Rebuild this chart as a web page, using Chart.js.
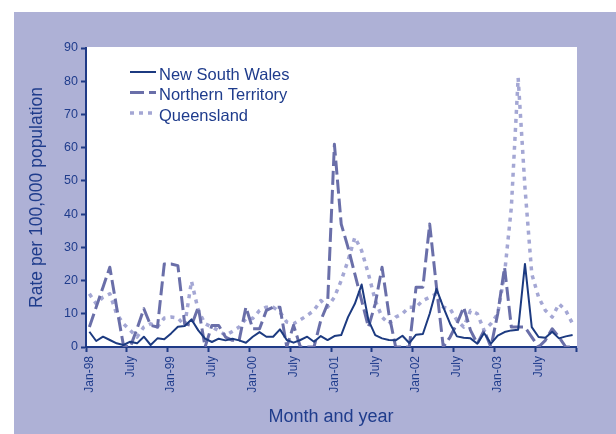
<!DOCTYPE html>
<html>
<head>
<meta charset="utf-8">
<script src="https://cdn.jsdelivr.net/npm/chart.js@4.4.1/dist/chart.umd.min.js"></script>
<style>
    html, body { margin: 0; padding: 0; background: #ffffff; }
    canvas { display: block; }
</style>
</head>
<body>
<canvas id="chart" width="616" height="434"></canvas>
<script>
// monthly categories, Jan-98 .. Dec-03
const years = ['98', '99', '00', '01', '02', '03'];
const month_names = ['Jan', 'Feb', 'Mar', 'Apr', 'May', 'Jun', 'Jul', 'Aug', 'Sep', 'Oct', 'Nov', 'Dec'];
const months = [];
years.forEach(y => month_names.forEach(m => months.push(m + '-' + y)));

// labels shown every 6 months
const tick_labels = ['Jan-98', 'July', 'Jan-99', 'July', 'Jan-00', 'July', 'Jan-01', 'July', 'Jan-02', 'July', 'Jan-03', 'July', ''];

const nsw = [
    4.6, 1.8, 3.1, 2.1, 1.1, 0.6, 1.6, 1.1, 3.1, 0.6, 2.6, 2.3,
    4.1, 6.1, 6.3, 8.3, 5.0, 2.5, 1.5, 2.5, 2.0, 2.5, 2.0, 1.3,
    3.1, 4.5, 3.1, 3.1, 5.3, 2.1, 1.3, 2.1, 3.1, 1.6, 3.3, 2.1,
    3.3, 3.6, 9.0, 13.0, 18.8, 8.1, 3.6, 2.6, 2.1, 2.0, 3.4, 1.2,
    3.7, 3.9, 10.0, 17.5, 12.0, 7.0, 3.2, 2.8, 2.6, 1.0, 4.2, 1.0,
    3.4, 4.5, 5.0, 5.2, 25.0, 6.0, 3.0, 2.8, 4.6, 2.6, 3.2, 3.6,
];
const nt = [
    6, 12, 18, 24, 12, 0.5, 0, 5.5, 11.5, 6.5, 6, 25,
    25, 24.5, 7, 6.5, 12, 0, 6.5, 6.5, 3, 2, 2, 12,
    5.5, 5.5, 11, 12, 12, 0, 6.5, 0, 0, 0, 8, 13,
    61, 37, 30, 22, 14, 6, 13, 24, 10, 0, 0, 0,
    18, 18, 37, 18, 0, 3, 7, 12, 5, 1, 5, 0,
    10, 24, 6, 6, 6, 3, 0, 2, 5.5, 3, 0, 0,
];
const qld = [
    16, 13, 15, 16, 10, 7, 5, 3, 6, 7, 6, 8.7,
    9, 8.7, 6.5, 19.8, 11, 7, 6, 5, 3.5, 4.7, 6, 8.5,
    8.6, 11, 12, 12, 10.5, 7.5, 7, 8.2, 9.5, 11, 14, 12,
    15, 20, 26, 33, 29, 22, 14, 9, 7, 9, 10, 12,
    12, 14, 15, 16, 12, 11.5, 8, 6, 11, 10, 5, 7,
    10, 22, 42, 81, 48, 22, 15, 11, 9, 13, 11, 7,
];

const text_color = '#1f3c8c';
const axis_color = '#1f3a86';
const font_family = '"Liberation Sans", Arial, sans-serif';

// each month sits in the middle of its slot on the axis
const to_points = values => values.map((y, i) => ({ x: i + 0.5, y }));

const panel_bg = {
    id: 'panel_bg',
    beforeDraw(chart) {
        const { ctx, chartArea: a } = chart;
        ctx.save();
        ctx.fillStyle = '#ffffff';
        ctx.fillRect(0, 0, chart.width, chart.height);
        ctx.fillStyle = '#aeb1d6';
        ctx.fillRect(14, 12, chart.width - 14, chart.height - 12);
        ctx.fillStyle = '#ffffff';
        ctx.fillRect(a.left, a.top - 1, a.right - a.left + 1, a.bottom - a.top + 1);
        ctx.restore();
    }
};

// legend sits inside the plot, top left
const inner_legend = {
    id: 'inner_legend',
    afterDatasetsDraw(chart) {
        const { ctx, chartArea: a } = chart;
        ctx.save();
        ctx.font = '16.5px ' + font_family;
        ctx.textBaseline = 'middle';
        chart.data.datasets.forEach((ds, i) => {
            const y = a.top + 26 + i * 20.5;
            ctx.strokeStyle = ds.borderColor;
            ctx.lineWidth = ds.borderWidth;
            ctx.setLineDash(ds.borderDash || []);
            ctx.beginPath();
            ctx.moveTo(a.left + 44, y - 2);
            ctx.lineTo(a.left + 70, y - 2);
            ctx.stroke();
            ctx.setLineDash([]);
            ctx.fillStyle = text_color;
            ctx.fillText(ds.label, a.left + 73, y + 1);
        });
        ctx.restore();
    }
};

let chart;

const init_chart = () => {
    const ctx = document.getElementById('chart').getContext('2d');

    chart = new Chart(ctx, {
        type: 'line',
        data: {
            labels: months,
            datasets: [
                {
                    label: 'New South Wales',
                    data: to_points(nsw),
                    borderColor: '#1c3a80',
                    borderWidth: 2,
                },
                {
                    label: 'Northern Territory',
                    data: to_points(nt),
                    borderColor: '#6a6fa9',
                    borderWidth: 3,
                    borderDash: [14, 5],
                },
                {
                    label: 'Queensland',
                    data: to_points(qld),
                    borderColor: '#a4a7d4',
                    borderWidth: 3.5,
                    borderDash: [4, 5],
                },
            ],
        },
        options: {
            responsive: false,
            animation: false,
            events: [],
            elements: {
                point: { radius: 0 },
                line: { tension: 0, borderCapStyle: 'butt', borderJoinStyle: 'round' },
            },
            layout: { padding: { left: 14, right: 40, top: 48, bottom: 3 } },
            scales: {
                x: {
                    type: 'linear',
                    min: 0,
                    max: 72,
                    afterFit: scale => { scale.height = 84; },
                    border: { display: true, color: axis_color, width: 2 },
                    grid: {
                        drawOnChartArea: false,
                        drawTicks: true,
                        tickLength: 5,
                        tickColor: axis_color,
                        tickWidth: 2,
                    },
                    ticks: {
                        stepSize: 6,
                        autoSkip: false,
                        minRotation: 90,
                        maxRotation: 90,
                        padding: 4,
                        labelOffset: 3.4,
                        color: text_color,
                        font: { family: font_family, size: 12 },
                        callback: (value, i) => tick_labels[i],
                    },
                    title: {
                        display: true,
                        text: 'Month and year',
                        color: text_color,
                        font: { family: font_family, size: 18 },
                        padding: { top: 0, bottom: 3 },
                    },
                },
                y: {
                    min: 0,
                    max: 90,
                    afterFit: scale => { scale.width = 72; },
                    border: { display: true, color: axis_color, width: 2 },
                    grid: {
                        drawOnChartArea: false,
                        drawTicks: true,
                        tickLength: 5,
                        tickColor: axis_color,
                        tickWidth: 2,
                    },
                    ticks: {
                        stepSize: 10,
                        padding: 3,
                        color: text_color,
                        font: { family: font_family, size: 12.5 },
                    },
                    title: {
                        display: true,
                        text: 'Rate per 100,000 population',
                        color: text_color,
                        font: { family: font_family, size: 17.5 },
                        padding: { top: 13, bottom: 0 },
                    },
                },
            },
            plugins: {
                legend: { display: false },
                tooltip: { enabled: false },
            },
        },
        plugins: [panel_bg, inner_legend],
    });
};

init_chart();
</script>
</body>
</html>
